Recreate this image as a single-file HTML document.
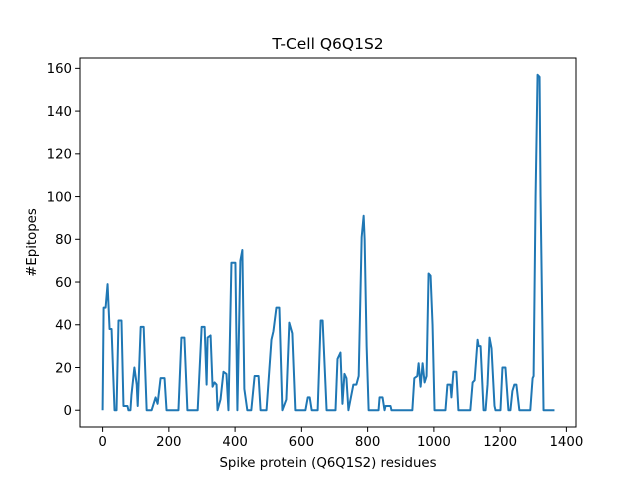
<!DOCTYPE html>
<html><head><meta charset="utf-8"><style>
body{margin:0;background:#fff;}
svg{display:block;font-family:"DejaVu Sans","Liberation Sans",sans-serif;}
</style></head><body>
<svg id="chart" width="640" height="480"></svg>
<script>
const residues=[0,3,9,15,21,27,36,42,48,57,63,75,78,84,87,96,103,106,115,124,133,148,154,160,166,175,187,193,229,238,247,256,287,299,308,314,317,326,332,338,344,347,356,365,374,380,389,401,407,416,422,428,437,449,459,471,477,495,510,516,525,534,543,555,564,573,582,612,619,625,631,649,658,664,676,703,709,718,724,730,736,742,757,766,773,782,788,791,797,803,833,836,845,851,854,869,872,935,941,950,954,960,966,972,978,984,990,996,1002,1035,1041,1050,1053,1059,1068,1074,1110,1117,1123,1132,1135,1141,1150,1156,1162,1168,1174,1183,1186,1201,1207,1216,1225,1231,1237,1243,1249,1258,1291,1298,1301,1307,1313,1319,1322,1331,1364];
const epitopes=[0,48,48,59,38,38,0,0,42,42,2,2,0,0,7,20,12,2,39,39,0,0,3,6,3,15,15,0,0,34,34,0,0,39,39,12,34,35,11,13,12,0,5,18,17,0,69,69,0,70,75,10,0,0,16,16,0,0,33,37,48,48,0,5,41,36,0,0,6,6,0,0,42,42,0,0,24,27,3,17,15,0,12,12,16,81,91,80,30,0,0,6,6,0,2,2,0,0,15,16,22,11,22,13,16,64,63,40,0,0,12,12,6,18,18,0,0,13,14,33,30,30,0,0,12,34,29,2,0,0,20,20,0,0,9,12,12,0,0,15,16,100,157,156,100,0,0];
const xTicks=[0,200,400,600,800,1000,1200,1400];
const yTicks=[0,20,40,60,80,100,120,140,160];
const NS="http://www.w3.org/2000/svg";
const svg=document.getElementById('chart');
const L=80,R=576,T=58,B=427;
const xMin=-68.2,xMax=1429,yMin=-7.85,yMax=164.85;
const X=v=>L+(v-xMin)/(xMax-xMin)*(R-L);
const Y=v=>B-(v-yMin)/(yMax-yMin)*(B-T);
function mk(t,a){const e=document.createElementNS(NS,t);for(const k in a)e.setAttribute(k,a[k]);svg.appendChild(e);return e;}
const path=mk('path',{d:residues.map((r,i)=>(i?'L':'M')+X(r).toFixed(2)+','+Y(epitopes[i]).toFixed(2)).join(''),fill:'none',stroke:'#1f77b4','stroke-width':2,'stroke-linejoin':'round'});


const frame=mk('rect',{x:L,y:T,width:R-L,height:B-T,fill:'none',stroke:'#000','stroke-width':1});


xTicks.forEach(v=>{const x=X(v);
 const tk=mk('line',{x1:x,x2:x,y1:B,y2:B+4.9,stroke:'#000','stroke-width':1});
 
 
 const t=mk('text',{x:x,y:B+19,'font-size':13.3,'text-anchor':'middle'});t.textContent=v;
 
 
});
yTicks.forEach(v=>{const y=Y(v);
 const tk=mk('line',{x1:L-4.9,x2:L,y1:y,y2:y,stroke:'#000','stroke-width':1});
 
 
 const t=mk('text',{x:L-8,y:y+4.8,'font-size':13.3,'text-anchor':'end'});t.textContent=v;
 
 
});
const ti=mk('text',{x:(L+R)/2,y:T-9,'font-size':15.5,'text-anchor':'middle'});ti.textContent='T-Cell Q6Q1S2';


const xl=mk('text',{x:(L+R)/2,y:467,'font-size':13.3,'text-anchor':'middle'});xl.textContent='Spike protein (Q6Q1S2) residues';


const yl=mk('text',{x:0,y:0,'font-size':13.3,'text-anchor':'middle',transform:'translate(36,'+((T+B)/2)+') rotate(-90)'});yl.textContent='#Epitopes';


</script>
</body></html>
